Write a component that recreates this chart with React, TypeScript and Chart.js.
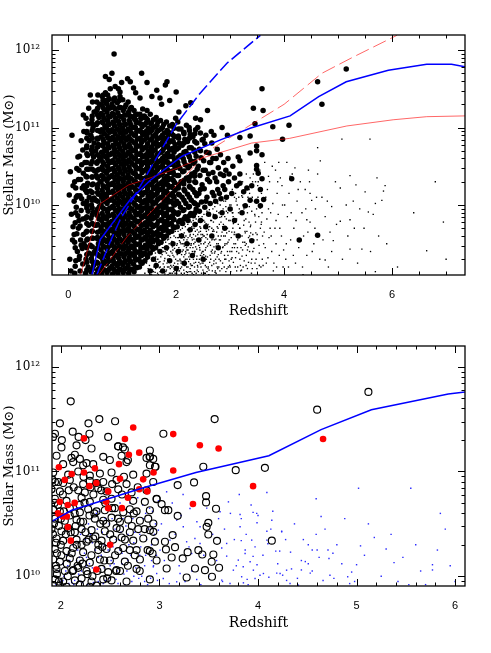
import React, { useEffect, useRef } from 'react';
import { Chart, registerables } from 'chart.js';
Chart.register(...registerables);

// ---------- TOP PANEL DATA: [redshift, log10(M*/Msun)] ----------
const topMassive: number[][] = [
[0.02,10.13],[0.07,10.90],[0.04,10.43],[0.06,9.88],[0.08,9.55],[0.03,9.30],[0.09,9.72],[0.05,9.15],[0.09,10.25],
[0.11,9.62],[0.14,9.9],[0.12,10.3],[0.2,9.3],[0.24,9.48],[0.2,9.8],[0.25,10.08],[0.2,10.45],[0.15,10.1],[0.13,9.45],[0.29,9.5],[0.29,10.25],
[0.12,9.12],[0.14,9.28],[0.17,9.40],[0.12,9.52],[0.16,9.63],[0.13,9.77],[0.18,9.86],[0.15,9.97],[0.11,10.05],[0.17,10.12],[0.14,10.22],[0.19,10.33],[0.16,10.47],[0.13,9.21],[0.19,9.70],[0.18,10.62],
[0.22,9.15],[0.27,9.24],[0.21,9.34],[0.26,9.44],[0.23,9.55],[0.28,9.62],[0.22,9.73],[0.27,9.82],[0.24,9.93],[0.28,10.02],[0.22,10.12],[0.26,10.22],[0.23,10.33],[0.28,10.41],[0.25,10.52],[0.21,10.63],[0.27,10.71],[0.24,10.83],[0.29,10.95],[0.28,11.16],
[0.32,9.12],[0.37,9.2],[0.33,9.3],[0.38,9.38],[0.31,9.47],[0.36,9.56],[0.33,9.65],[0.38,9.74],[0.32,9.83],[0.37,9.92],[0.34,10.0],[0.39,10.1],[0.32,10.19],[0.36,10.28],[0.33,10.37],[0.38,10.46],[0.31,10.55],[0.36,10.64],[0.34,10.74],[0.39,10.83],[0.35,10.93],[0.37,11.05],[0.33,11.12],[0.38,11.25],
[0.42,9.14],[0.47,9.22],[0.43,9.31],[0.48,9.39],[0.41,9.48],[0.46,9.57],[0.44,9.66],[0.49,9.74],[0.42,9.83],[0.47,9.91],[0.43,10.0],[0.48,10.09],[0.41,10.18],[0.46,10.27],[0.44,10.36],[0.49,10.44],[0.42,10.53],[0.47,10.62],[0.43,10.71],[0.48,10.8],[0.42,10.9],[0.46,11.0],[0.44,11.1],[0.48,11.2],[0.45,11.33],[0.41,11.42],
[0.52,9.11],[0.57,9.18],[0.53,9.26],[0.58,9.34],[0.51,9.42],[0.56,9.5],[0.54,9.58],[0.59,9.66],[0.52,9.74],[0.57,9.82],[0.53,9.9],[0.58,9.98],[0.51,10.06],[0.56,10.14],[0.54,10.22],[0.59,10.3],[0.52,10.38],[0.57,10.46],[0.53,10.54],[0.58,10.62],[0.51,10.7],[0.56,10.78],[0.54,10.86],[0.59,10.95],[0.52,11.04],[0.57,11.13],[0.53,11.22],[0.58,11.3],[0.55,11.42],[0.53,11.33],
[0.62,9.12],[0.62,9.22],[0.63,9.31],[0.61,9.42],[0.62,9.51],[0.63,9.60],[0.61,9.71],[0.62,9.80],[0.63,9.89],[0.61,10.0],[0.62,10.1],[0.63,10.19],[0.61,10.3],[0.62,10.38],[0.63,10.49],[0.61,10.58],[0.62,10.68],[0.63,10.77],[0.61,10.88],[0.62,10.97],[0.63,11.07],[0.61,11.18],[0.62,11.29],[0.63,11.40],
[0.67,9.16],[0.68,9.27],[0.66,9.36],[0.67,9.46],[0.68,9.55],[0.66,9.66],[0.67,9.75],[0.68,9.85],[0.66,9.95],[0.67,10.05],[0.68,10.14],[0.66,10.24],[0.67,10.34],[0.68,10.44],[0.66,10.53],[0.67,10.63],[0.68,10.72],[0.66,10.82],[0.67,10.92],[0.68,11.02],[0.66,11.12],[0.67,11.23],[0.68,11.35],[0.69,11.45],[0.69,11.66],[0.65,11.42],
[0.72,9.13],[0.71,9.24],[0.73,9.33],[0.72,9.43],[0.71,9.53],[0.73,9.62],[0.72,9.72],[0.71,9.82],[0.73,9.91],[0.72,10.02],[0.71,10.11],[0.73,10.21],[0.72,10.31],[0.71,10.41],[0.73,10.5],[0.72,10.6],[0.71,10.7],[0.73,10.79],[0.72,10.89],[0.71,10.99],[0.73,11.09],[0.72,11.2],[0.71,11.31],[0.73,11.42],
[0.77,9.18],[0.76,9.28],[0.78,9.38],[0.77,9.48],[0.76,9.57],[0.78,9.67],[0.77,9.77],[0.76,9.86],[0.78,9.96],[0.77,10.06],[0.76,10.16],[0.78,10.26],[0.77,10.36],[0.76,10.46],[0.78,10.55],[0.77,10.65],[0.76,10.74],[0.78,10.84],[0.77,10.94],[0.76,11.04],[0.78,11.14],[0.77,11.25],[0.76,11.37],[0.78,11.5],[0.76,11.62],
[0.82,9.11],[0.81,9.21],[0.83,9.3],[0.82,9.4],[0.81,9.5],[0.83,9.59],[0.82,9.69],[0.81,9.79],[0.83,9.88],[0.82,9.98],[0.81,10.08],[0.83,10.18],[0.82,10.28],[0.81,10.38],[0.83,10.47],[0.82,10.57],[0.81,10.67],[0.83,10.77],[0.82,10.87],[0.81,10.97],[0.83,11.07],[0.82,11.18],[0.81,11.3],
[0.87,9.15],[0.86,9.25],[0.88,9.35],[0.87,9.45],[0.86,9.55],[0.88,9.64],[0.87,9.74],[0.86,9.84],[0.88,9.93],[0.87,10.03],[0.86,10.13],[0.88,10.23],[0.87,10.33],[0.86,10.43],[0.88,10.52],[0.87,10.62],[0.86,10.72],[0.88,10.82],[0.87,10.92],[0.86,11.02],[0.88,11.12],[0.87,11.24],[0.86,11.38],[0.85,11.95],[0.81,11.70],[0.87,11.53],
[0.92,9.12],[0.91,9.22],[0.93,9.32],[0.92,9.42],[0.91,9.51],[0.93,9.61],[0.92,9.7],[0.91,9.8],[0.93,9.9],[0.92,10.0],[0.91,10.09],[0.93,10.19],[0.92,10.29],[0.91,10.39],[0.93,10.48],[0.92,10.58],[0.91,10.68],[0.93,10.78],[0.92,10.88],[0.91,10.98],[0.93,11.08],[0.92,11.19],[0.91,11.32],
[0.97,9.17],[0.96,9.27],[0.98,9.37],[0.97,9.46],[0.96,9.56],[0.98,9.66],[0.97,9.75],[0.96,9.85],[0.98,9.95],[0.97,10.04],[0.96,10.14],[0.98,10.24],[0.97,10.34],[0.96,10.43],[0.98,10.53],[0.97,10.63],[0.96,10.73],[0.98,10.83],[0.97,10.93],[0.96,11.03],[0.98,11.14],[0.97,11.26],[0.96,11.4],[0.99,11.58],[0.93,11.5],[0.96,11.46],
[1.02,9.13],[1.01,9.23],[1.03,9.33],[1.02,9.43],[1.01,9.52],[1.03,9.62],[1.02,9.72],[1.01,9.81],[1.03,9.91],[1.02,10.01],[1.01,10.1],[1.03,10.2],[1.02,10.3],[1.01,10.4],[1.03,10.49],[1.02,10.59],[1.01,10.69],[1.03,10.79],[1.02,10.89],[1.01,10.99],[1.03,11.1],[1.02,11.22],[1.01,11.36],
[1.07,9.18],[1.06,9.28],[1.08,9.38],[1.07,9.47],[1.06,9.57],[1.08,9.67],[1.07,9.76],[1.06,9.86],[1.08,9.96],[1.07,10.05],[1.06,10.15],[1.08,10.25],[1.07,10.35],[1.06,10.44],[1.08,10.54],[1.07,10.64],[1.06,10.74],[1.08,10.84],[1.07,10.94],[1.06,11.04],[1.08,11.16],[1.07,11.29],[1.10,11.63],
[1.12,9.12],[1.11,9.22],[1.13,9.32],[1.12,9.42],[1.11,9.52],[1.13,9.61],[1.12,9.71],[1.11,9.81],[1.13,9.9],[1.12,10.0],[1.11,10.1],[1.13,10.2],[1.12,10.29],[1.11,10.39],[1.13,10.49],[1.12,10.58],[1.11,10.68],[1.13,10.78],[1.12,10.88],[1.11,10.98],[1.13,11.09],[1.12,11.2],[1.11,11.33],
[1.17,9.17],[1.16,9.27],[1.18,9.37],[1.17,9.47],[1.16,9.56],[1.18,9.66],[1.17,9.76],[1.16,9.85],[1.18,9.95],[1.17,10.05],[1.16,10.15],[1.18,10.24],[1.17,10.34],[1.16,10.44],[1.18,10.54],[1.17,10.63],[1.16,10.73],[1.18,10.83],[1.17,10.93],[1.16,11.03],[1.18,11.14],[1.17,11.26],[1.15,11.59],[1.21,11.51],
[1.22,9.14],[1.21,9.24],[1.23,9.34],[1.22,9.44],[1.21,9.54],[1.23,9.63],[1.22,9.73],[1.21,9.83],[1.23,9.92],[1.22,10.02],[1.21,10.12],[1.23,10.22],[1.22,10.31],[1.21,10.41],[1.23,10.51],[1.22,10.6],[1.21,10.7],[1.23,10.8],[1.22,10.9],[1.21,11.0],[1.23,11.11],[1.22,11.22],
[1.27,9.19],[1.26,9.29],[1.28,9.39],[1.27,9.49],[1.26,9.58],[1.28,9.68],[1.27,9.78],[1.26,9.87],[1.28,9.97],[1.27,10.07],[1.26,10.17],[1.28,10.26],[1.27,10.36],[1.26,10.46],[1.28,10.56],[1.27,10.65],[1.26,10.75],[1.28,10.85],[1.27,10.95],[1.26,11.06],[1.28,11.17],[1.25,11.45],
[1.32,9.2],[1.31,9.3],[1.33,9.4],[1.32,9.5],[1.31,9.6],[1.33,9.69],[1.32,9.79],[1.31,9.89],[1.33,9.98],[1.32,10.08],[1.31,10.18],[1.33,10.28],[1.32,10.37],[1.31,10.47],[1.33,10.57],[1.32,10.66],[1.31,10.76],[1.33,10.86],[1.32,10.96],[1.31,11.06],[1.33,11.17],[1.33,11.38],
[1.37,9.25],[1.36,9.35],[1.38,9.45],[1.37,9.55],[1.36,9.64],[1.38,9.74],[1.37,9.84],[1.36,9.93],[1.38,10.03],[1.37,10.13],[1.36,10.23],[1.38,10.32],[1.37,10.42],[1.36,10.52],[1.38,10.62],[1.37,10.71],[1.36,10.81],[1.38,10.91],[1.37,11.01],[1.36,11.12],[1.38,11.24],[1.36,11.70],
[1.42,9.28],[1.41,9.38],[1.43,9.48],[1.42,9.58],[1.41,9.67],[1.43,9.77],[1.42,9.87],[1.41,9.96],[1.43,10.06],[1.42,10.16],[1.41,10.26],[1.43,10.35],[1.42,10.45],[1.41,10.55],[1.43,10.64],[1.42,10.74],[1.41,10.84],[1.43,10.94],[1.42,11.04],[1.41,11.15],
[1.47,9.33],[1.46,9.43],[1.48,9.53],[1.47,9.62],[1.46,9.72],[1.48,9.82],[1.47,9.91],[1.46,10.01],[1.48,10.11],[1.47,10.21],[1.46,10.3],[1.48,10.4],[1.47,10.5],[1.46,10.59],[1.48,10.69],[1.47,10.79],[1.46,10.89],[1.48,10.99],[1.47,11.1],[1.46,11.22],[1.46,11.58],
[1.52,9.38],[1.51,9.48],[1.53,9.58],[1.52,9.67],[1.51,9.77],[1.53,9.87],[1.52,9.96],[1.51,10.06],[1.53,10.16],[1.52,10.26],[1.51,10.35],[1.53,10.45],[1.52,10.55],[1.51,10.64],[1.53,10.74],[1.52,10.84],[1.51,10.94],[1.53,11.05],[1.52,11.17],
[1.57,9.43],[1.56,9.53],[1.58,9.62],[1.57,9.72],[1.56,9.82],[1.58,9.91],[1.57,10.01],[1.56,10.11],[1.58,10.21],[1.57,10.3],[1.56,10.4],[1.58,10.5],[1.57,10.59],[1.56,10.69],[1.58,10.79],[1.57,10.89],[1.56,10.99],[1.58,11.1],[1.55,11.40],
[1.62,9.45],[1.61,9.55],[1.63,9.64],[1.62,9.74],[1.61,9.84],[1.63,9.93],[1.62,10.03],[1.61,10.13],[1.63,10.23],[1.62,10.32],[1.61,10.42],[1.63,10.52],[1.62,10.61],[1.61,10.71],[1.63,10.81],[1.62,10.91],[1.61,11.01],[1.63,11.13],[1.64,11.48],
[1.67,9.5],[1.66,9.6],[1.68,9.69],[1.67,9.79],[1.66,9.89],[1.68,9.98],[1.67,10.08],[1.66,10.18],[1.68,10.27],[1.67,10.37],[1.66,10.47],[1.68,10.56],[1.67,10.66],[1.66,10.76],[1.68,10.86],[1.67,10.96],[1.66,11.07],[1.70,11.38],
[1.72,9.52],[1.71,9.62],[1.73,9.71],[1.72,9.81],[1.71,9.91],[1.73,10.0],[1.72,10.1],[1.71,10.2],[1.73,10.29],[1.72,10.39],[1.71,10.49],[1.73,10.58],[1.72,10.68],[1.71,10.78],[1.73,10.88],[1.72,10.98],[1.71,11.09],
[1.77,9.57],[1.76,9.67],[1.78,9.76],[1.77,9.86],[1.76,9.96],[1.78,10.05],[1.77,10.15],[1.76,10.25],[1.78,10.34],[1.77,10.44],[1.76,10.54],[1.78,10.63],[1.77,10.73],[1.76,10.83],[1.78,10.93],[1.77,11.04],[1.73,11.3],[1.83,11.59],[1.80,11.55],
[1.82,9.6],[1.81,9.7],[1.83,9.79],[1.82,9.89],[1.81,9.99],[1.83,10.08],[1.82,10.18],[1.81,10.28],[1.83,10.37],[1.82,10.47],[1.81,10.57],[1.83,10.66],[1.82,10.76],[1.81,10.86],[1.83,10.96],[1.82,11.07],
[1.87,9.65],[1.86,9.75],[1.88,9.84],[1.87,9.94],[1.86,10.04],[1.88,10.13],[1.87,10.23],[1.86,10.33],[1.88,10.42],[1.87,10.52],[1.86,10.62],[1.88,10.71],[1.87,10.81],[1.86,10.91],[1.88,11.02],[1.88,11.35],
[1.92,9.66],[1.91,9.76],[1.93,9.86],[1.92,9.95],[1.91,10.05],[1.93,10.15],[1.92,10.24],[1.91,10.34],[1.93,10.44],[1.92,10.53],[1.91,10.63],[1.93,10.73],[1.92,10.83],[1.91,10.93],[1.93,11.04],
[1.97,9.71],[1.96,9.81],[1.98,9.9],[1.97,10.0],[1.96,10.1],[1.98,10.19],[1.97,10.29],[1.96,10.39],[1.98,10.48],[1.97,10.58],[1.96,10.68],[1.98,10.78],[1.97,10.88],[1.96,10.99],[1.99,11.12],[2.0,11.46],
[2.02,9.72],[2.07,9.8],[2.03,9.88],[2.08,9.97],[2.01,10.05],[2.06,10.13],[2.04,10.22],[2.09,10.3],[2.02,10.38],[2.07,10.47],[2.03,10.55],[2.08,10.64],[2.01,10.72],[2.06,10.8],[2.04,10.89],[2.09,10.98],[2.03,11.07],[2.05,11.2],
[2.12,9.76],[2.17,9.85],[2.13,9.93],[2.18,10.02],[2.11,10.1],[2.16,10.18],[2.14,10.27],[2.19,10.35],[2.12,10.43],[2.17,10.52],[2.13,10.6],[2.18,10.69],[2.11,10.77],[2.16,10.85],[2.14,10.94],[2.19,11.03],[2.18,11.28],
[2.22,9.8],[2.27,9.89],[2.23,9.97],[2.28,10.06],[2.21,10.14],[2.26,10.23],[2.24,10.31],[2.29,10.4],[2.22,10.48],[2.27,10.57],[2.23,10.65],[2.28,10.74],[2.21,10.82],[2.26,10.91],[2.24,11.0],[2.27,11.32],
[2.32,9.86],[2.37,9.95],[2.33,10.03],[2.38,10.12],[2.31,10.2],[2.36,10.29],[2.34,10.37],[2.39,10.46],[2.32,10.54],[2.37,10.63],[2.33,10.71],[2.38,10.8],[2.31,10.88],[2.36,10.97],[2.36,11.12],
[2.43,9.92],[2.47,10.04],[2.42,10.15],[2.48,10.26],[2.44,10.38],[2.41,10.5],[2.46,10.61],[2.43,10.72],[2.48,10.84],[2.45,10.93],
[2.53,9.97],[2.57,10.1],[2.52,10.21],[2.58,10.33],[2.54,10.45],[2.51,10.57],[2.56,10.68],[2.53,10.79],[2.58,11.22],[2.55,10.9],
[2.63,10.02],[2.67,10.16],[2.62,10.3],[2.68,10.42],[2.64,10.55],[2.61,10.67],[2.66,10.8],
[2.73,10.05],[2.77,10.2],[2.72,10.35],[2.78,10.48],[2.74,10.6],[2.76,10.72],
[2.83,10.08],[2.87,10.25],[2.82,10.4],[2.88,10.55],[2.85,11.0],
[2.93,10.1],[2.97,10.3],[2.92,10.45],[2.96,10.6],[2.95,10.9],
[3.03,10.15],[3.08,10.35],[3.05,10.5],[3.12,10.25],[3.15,10.62],[3.18,10.4],
[2.4,10.0],[2.45,10.2],[2.5,10.45],[2.45,10.7],[2.55,10.05],[2.6,10.4],[2.62,10.55],[2.7,10.12],[2.68,10.6],[2.75,10.3],[2.8,10.15],[2.82,10.65],[2.9,10.2],[2.88,10.38],[2.98,10.4],[2.5,10.85],[2.65,10.95],[2.7,10.9],[2.4,11.0],[2.45,11.1],
[3.18,10.87],[3.59,11.5],[3.43,11.25],[3.61,11.22],[3.46,11.05],[3.79,11.01],[4.09,11.03],[3.97,10.85],[3.37,10.89],[3.49,10.76],[3.49,10.70],[3.37,10.67],[3.59,10.65],[3.18,10.57],[3.49,10.51],[3.49,10.46],[3.52,10.41],[3.59,10.34],[4.14,10.34],[3.18,10.28],[3.40,10.25],[3.56,10.20],[3.25,10.17],[3.31,10.22],[3.37,10.06],[3.49,10.05],[3.62,10.07],[3.56,9.99],[3.28,9.99],[4.62,11.59],[4.70,11.30],[5.15,11.755],[4.28,9.55],[4.62,9.61],[3.40,9.54],
[1.52,9.15],[1.58,9.3],[1.63,9.22],[1.7,9.4],[1.75,9.15],[1.82,9.45],[1.88,9.28],[1.94,9.5],[2.0,9.18],[2.04,9.4],[2.1,9.6],[2.15,9.25],[2.2,9.5],[2.26,9.68],[2.3,9.35],[2.35,9.75],[2.42,9.55],[2.45,9.8],[2.5,9.3],[2.55,9.72],[2.6,9.88],[2.66,9.6],[2.72,9.85],[2.78,9.45],[2.85,9.9],[2.9,9.7],[3.0,9.95],[3.08,9.8],[3.15,9.6],[3.22,9.9]
];

// extra massive galaxies filling the crowded core: [redshift, list of log masses]
const topMassiveCore: [number, number[]][] = [
[0.345,[9.16,9.26,9.36,9.45,9.55,9.66,9.76,9.85,9.96,10.05,10.16,10.25,10.36,10.46,10.55,10.66,10.76,10.86,10.95]],
[0.445,[9.17,9.27,9.36,9.46,9.57,9.66,9.76,9.87,9.96,10.06,10.16,10.26,10.36,10.46,10.56,10.66,10.75,10.86,10.96,11.05,11.15]],
[0.545,[9.16,9.25,9.36,9.45,9.56,9.65,9.75,9.86,9.95,10.05,10.16,10.26,10.35,10.45,10.56,10.65,10.75,10.85,10.96,11.06,11.16,11.25]],
[0.645,[9.17,9.26,9.37,9.46,9.56,9.66,9.75,9.85,9.96,10.06,10.15,10.25,10.36,10.45,10.55,10.66,10.76,10.85,10.95,11.06,11.16,11.26,11.35]],
[0.745,[9.16,9.27,9.36,9.46,9.55,9.66,9.76,9.86,9.95,10.06,10.16,10.26,10.35,10.45,10.56,10.65,10.75,10.86,10.96,11.05,11.15,11.26,11.36]],
[0.845,[9.17,9.26,9.36,9.46,9.56,9.65,9.75,9.86,9.96,10.05,10.15,10.26,10.36,10.45,10.55,10.66,10.76,10.85,10.95,11.06,11.16,11.26,11.35]],
[0.945,[9.16,9.26,9.37,9.46,9.56,9.65,9.76,9.86,9.95,10.05,10.16,10.25,10.35,10.46,10.56,10.65,10.75,10.86,10.96,11.05,11.15,11.26,11.35]],
[1.045,[9.17,9.26,9.36,9.46,9.55,9.66,9.76,9.85,9.95,10.06,10.16,10.25,10.35,10.46,10.55,10.65,10.76,10.86,10.95,11.05,11.16,11.26]],
[1.145,[9.16,9.27,9.36,9.45,9.56,9.66,9.75,9.86,9.96,10.05,10.15,10.26,10.35,10.45,10.56,10.66,10.75,10.85,10.96,11.06,11.15,11.24]],
[1.245,[9.2,9.3,9.4,9.5,9.6,9.7,9.8,9.9,10.0,10.1,10.2,10.3,10.4,10.5,10.6,10.7,10.8,10.9,11.0,11.1,11.16]],
[1.345,[9.26,9.35,9.45,9.56,9.65,9.75,9.86,9.95,10.05,10.16,10.25,10.35,10.46,10.55,10.65,10.76,10.85,10.95,11.05,11.12]],
[1.445,[9.36,9.45,9.56,9.65,9.75,9.85,9.96,10.05,10.16,10.25,10.35,10.46,10.55,10.65,10.75,10.86,10.95,11.06,11.12]],
[1.545,[9.46,9.56,9.65,9.75,9.86,9.95,10.05,10.15,10.26,10.35,10.45,10.56,10.65,10.75,10.85,10.96,11.06]],
[1.645,[9.55,9.65,9.75,9.86,9.95,10.06,10.15,10.25,10.36,10.45,10.55,10.65,10.76,10.86,10.95,11.03]],
[1.745,[9.6,9.7,9.8,9.9,10.0,10.1,10.2,10.3,10.4,10.5,10.6,10.7,10.8,10.9,11.0]],
[1.845,[9.66,9.75,9.85,9.95,10.06,10.15,10.26,10.35,10.45,10.55,10.66,10.75,10.85,10.95]],
[1.945,[9.72,9.82,9.92,10.02,10.12,10.22,10.32,10.42,10.52,10.62,10.72,10.82,10.9]],
[2.045,[9.78,9.9,10.02,10.14,10.26,10.38,10.5,10.62,10.74,10.86,10.98]],
[2.145,[9.82,9.94,10.06,10.2,10.32,10.44,10.56,10.68,10.8,10.92]],
[2.245,[9.86,9.98,10.1,10.24,10.36,10.5,10.62,10.74,10.86,10.96]],
[2.345,[9.9,10.02,10.16,10.3,10.42,10.56,10.68,10.82,10.92]]
];

const topFaint: number[][] = [
[1.42,9.12],[1.45,9.25],[1.48,9.18],[1.5,9.35],[1.52,9.1],[1.55,9.28],[1.57,9.42],[1.59,9.2],[1.44,9.38],[1.53,9.48],[1.47,9.3],[1.58,9.14],
[1.61,9.13],[1.62,9.33],[1.64,9.22],[1.65,9.47],[1.67,9.1],[1.68,9.4],[1.7,9.27],[1.71,9.52],[1.73,9.16],[1.74,9.36],[1.76,9.24],[1.77,9.45],[1.79,9.11],[1.79,9.31],[1.63,9.55],[1.69,9.19],[1.75,9.55],[1.66,9.3],[1.72,9.42],[1.78,9.2],
[1.81,9.14],[1.82,9.38],[1.83,9.25],[1.84,9.55],[1.85,9.1],[1.86,9.45],[1.87,9.3],[1.88,9.62],[1.89,9.18],[1.9,9.4],[1.91,9.27],[1.92,9.53],[1.93,9.12],[1.94,9.35],[1.95,9.22],[1.96,9.6],[1.97,9.44],[1.98,9.16],[1.99,9.3],[1.84,9.2],[1.87,9.5],[1.9,9.12],[1.93,9.46],[1.96,9.33],[1.99,9.58],[1.82,9.6],[1.88,9.34],[1.94,9.65],[1.97,9.25],[1.85,9.35],
[2.01,9.12],[2.02,9.36],[2.03,9.24],[2.04,9.58],[2.05,9.45],[2.06,9.15],[2.07,9.3],[2.08,9.68],[2.09,9.5],[2.1,9.2],[2.11,9.4],[2.12,9.1],[2.13,9.62],[2.14,9.33],[2.15,9.47],[2.16,9.22],[2.17,9.72],[2.18,9.38],[2.19,9.14],[2.2,9.55],[2.02,9.5],[2.05,9.28],[2.08,9.18],[2.1,9.63],[2.13,9.42],[2.15,9.12],[2.18,9.6],[2.04,9.7],[2.07,9.42],[2.11,9.27],[2.14,9.55],[2.17,9.3],[2.19,9.45],[2.06,9.62],[2.12,9.5],[2.16,9.36],[2.09,9.25],[2.03,9.15],[2.2,9.3],[2.01,9.48],
[2.21,9.13],[2.22,9.42],[2.23,9.27],[2.24,9.65],[2.25,9.5],[2.26,9.18],[2.27,9.35],[2.28,9.78],[2.29,9.58],[2.3,9.22],[2.31,9.45],[2.32,9.1],[2.33,9.7],[2.34,9.38],[2.35,9.52],[2.36,9.26],[2.37,9.82],[2.38,9.43],[2.39,9.16],[2.4,9.62],[2.22,9.58],[2.25,9.3],[2.27,9.14],[2.29,9.72],[2.31,9.33],[2.34,9.2],[2.36,9.6],[2.38,9.3],[2.23,9.8],[2.26,9.45],[2.3,9.55],[2.33,9.25],[2.35,9.4],[2.37,9.12],[2.39,9.68],[2.24,9.38],[2.28,9.22],[2.32,9.62],[2.21,9.68],[2.26,9.85],
[2.41,9.14],[2.42,9.48],[2.43,9.3],[2.44,9.72],[2.45,9.55],[2.46,9.2],[2.47,9.38],[2.48,9.85],[2.49,9.62],[2.5,9.25],[2.51,9.5],[2.52,9.12],[2.53,9.78],[2.54,9.42],[2.55,9.58],[2.56,9.3],[2.57,9.92],[2.58,9.47],[2.59,9.18],[2.6,9.68],[2.42,9.65],[2.45,9.35],[2.47,9.12],[2.49,9.8],[2.51,9.36],[2.54,9.22],[2.56,9.66],[2.58,9.33],[2.43,9.9],[2.46,9.5],[2.5,9.6],[2.53,9.28],[2.55,9.45],[2.57,9.14],[2.59,9.75],[2.44,9.42],[2.48,9.25],[2.52,9.7],[2.41,9.78],
[2.61,9.16],[2.62,9.52],[2.63,9.35],[2.64,9.8],[2.65,9.6],[2.66,9.22],[2.67,9.42],[2.68,9.95],[2.69,9.68],[2.7,9.28],[2.71,9.55],[2.72,9.13],[2.73,9.85],[2.74,9.47],[2.75,9.65],[2.76,9.33],[2.77,10.02],[2.78,9.5],[2.79,9.2],[2.8,9.75],[2.62,9.72],[2.65,9.4],[2.67,9.15],[2.69,9.88],[2.71,9.38],[2.74,9.25],[2.76,9.72],[2.78,9.36],[2.63,10.0],[2.66,9.55],[2.7,9.66],[2.73,9.3],[2.75,9.5],[2.77,9.18],[2.79,9.9],
[2.81,9.15],[2.82,9.55],[2.83,9.38],[2.84,9.85],[2.85,9.65],[2.86,9.25],[2.87,9.46],[2.88,10.05],[2.89,9.72],[2.9,9.3],[2.91,9.6],[2.92,9.14],[2.93,9.92],[2.94,9.5],[2.95,9.7],[2.96,9.35],[2.97,10.12],[2.98,9.55],[2.99,9.22],[3.0,9.8],[2.83,9.78],[2.86,9.45],[2.89,9.2],[2.92,9.98],[2.95,9.4],[2.98,9.28],[2.85,10.1],[2.9,9.85],
[3.01,9.14],[3.02,9.58],[3.03,9.4],[3.04,9.9],[3.05,9.7],[3.06,9.26],[3.07,9.5],[3.08,10.1],[3.09,9.78],[3.1,9.32],[3.11,9.62],[3.12,9.15],[3.13,10.0],[3.14,9.55],[3.15,9.75],[3.16,9.38],[3.17,10.25],[3.18,9.6],[3.19,9.22],[3.2,9.88],[3.04,10.2],[3.08,9.45],[3.12,9.82],[3.16,10.1],[3.03,9.65],[3.1,10.15],[3.18,9.3],
[3.21,9.16],[3.22,9.6],[3.23,9.42],[3.24,10.0],[3.25,9.74],[3.26,9.28],[3.27,9.52],[3.28,10.2],[3.29,9.82],[3.3,9.35],[3.31,9.66],[3.32,9.18],[3.33,10.1],[3.34,9.58],[3.35,9.78],[3.36,9.4],[3.37,10.35],[3.38,9.64],[3.39,9.25],[3.4,9.92],[3.23,10.3],[3.28,9.48],[3.32,9.9],[3.36,10.15],[3.3,10.4],
[3.41,9.18],[3.42,9.62],[3.44,9.44],[3.45,10.05],[3.47,9.78],[3.48,9.3],[3.5,9.55],[3.51,10.25],[3.53,9.85],[3.54,9.38],[3.56,9.7],[3.57,9.2],[3.58,10.15],[3.6,9.6],[3.43,10.4],[3.49,9.95],[3.55,10.45],[3.59,9.9],[3.46,9.25],[3.52,10.3],
[3.61,9.22],[3.63,9.65],[3.65,9.45],[3.66,10.1],[3.68,9.82],[3.7,9.32],[3.72,9.58],[3.73,10.3],[3.75,9.9],[3.77,9.4],[3.78,10.5],[3.64,10.55],[3.69,10.2],[3.74,9.7],[3.79,10.02],[3.71,10.37],
[3.81,9.25],[3.83,9.7],[3.85,9.5],[3.87,10.15],[3.89,9.88],[3.91,9.35],[3.93,10.35],[3.95,9.6],[3.97,10.0],[3.99,9.42],[3.84,10.45],[3.9,10.55],[3.96,10.25],[3.86,9.2],
[4.03,9.3],[4.06,9.85],[4.09,10.15],[4.12,9.55],[4.15,10.4],[4.18,9.7],[4.21,9.25],[4.24,10.05],[4.27,9.45],[4.3,10.3],[4.33,9.9],[4.36,9.6],[4.39,10.2],[4.42,9.35],[4.45,10.45],[4.48,9.78],[4.11,10.37],[4.2,10.48],[4.05,10.55],[4.34,9.2],
[4.51,10.06],[4.48,10.15],[4.62,10.4],[4.67,10.57],[4.62,10.74],[4.42,9.81],[4.76,9.85],[4.88,9.98],[4.91,9.54],[4.82,9.2],[4.76,9.29],[4.55,9.5],[4.7,10.1],[4.95,10.3],[4.58,9.95],[4.85,9.65],
[5.07,10.85],[5.22,10.38],[5.33,10.26],[5.04,10.22],[5.5,10.17],[5.04,9.79],[5.22,9.81],[5.22,9.43],[5.44,9.43],[5.15,10.0],[5.3,9.7],[5.4,9.95],
[5.59,10.85],[5.87,10.25],[5.84,10.18],[5.81,10.06],[5.69,10.02],[5.56,9.91],[5.65,9.88],[5.69,9.14],[5.75,9.6],
[6.95,9.78],[6.64,9.41]
];

const topFaintMore: number[][] = [
[1.505,9.22],[1.535,9.4],[1.565,9.16],[1.595,9.5],[1.625,9.27],[1.655,9.12],[1.685,9.55],[1.715,9.33],[1.745,9.45],[1.775,9.14],[1.805,9.52],[1.835,9.42],[1.865,9.2],[1.895,9.58],[1.925,9.38],[1.955,9.14],[1.985,9.66],[1.545,9.1],[1.615,9.38],[1.705,9.2],[1.795,9.4],[1.875,9.12],[1.945,9.48],
[2.015,9.2],[2.035,9.66],[2.055,9.38],[2.075,9.52],[2.095,9.12],[2.115,9.7],[2.135,9.26],[2.155,9.58],[2.175,9.4],[2.195,9.2],[2.215,9.75],[2.235,9.33],[2.255,9.6],[2.275,9.48],[2.295,9.12],[2.315,9.8],[2.335,9.4],[2.355,9.66],[2.375,9.55],[2.395,9.22],[2.415,9.85],[2.435,9.45],[2.455,9.7],[2.475,9.58],[2.495,9.16],[2.025,9.42],[2.085,9.28],[2.145,9.5],[2.205,9.1],[2.265,9.24],[2.325,9.5],[2.385,9.34],[2.445,9.24],[2.485,9.4],
[2.515,9.88],[2.535,9.52],[2.555,9.76],[2.575,9.62],[2.595,9.2],[2.615,9.94],[2.635,9.48],[2.655,9.8],[2.675,9.66],[2.695,9.24],[2.715,9.98],[2.735,9.56],[2.755,9.84],[2.775,9.7],[2.795,9.3],[2.815,10.0],[2.835,9.6],[2.855,9.88],[2.875,9.75],[2.895,9.35],[2.915,10.05],[2.935,9.64],[2.955,9.9],[2.975,9.8],[2.995,9.4],[2.545,9.34],[2.605,9.1],[2.665,9.38],[2.725,9.15],[2.785,9.44],[2.845,9.18],[2.905,9.5],[2.965,9.2],
[3.015,10.0],[3.035,9.32],[3.055,9.85],[3.075,9.62],[3.095,9.2],[3.115,10.08],[3.135,9.45],[3.155,9.9],[3.175,9.7],[3.195,9.15],[3.215,10.12],[3.235,9.52],[3.255,9.95],[3.275,9.66],[3.295,9.22],[3.315,10.2],[3.335,9.46],[3.355,9.98],[3.375,9.72],[3.395,9.12],[3.415,10.3],[3.435,9.55],[3.455,9.88],[3.475,9.64],[3.495,9.18],[3.515,10.1],[3.535,9.48],[3.555,9.96],[3.575,9.75],[3.595,9.3],
[3.62,9.5],[3.67,9.25],[3.71,9.95],[3.76,9.6],[3.8,9.15],[3.85,9.8],[3.88,10.3],[3.92,9.7],[3.98,9.2],[4.01,10.0],[4.04,9.5],[4.08,9.2],[4.13,9.9],[4.17,9.35],[4.22,9.8],[4.26,10.2],[4.31,9.55],[4.35,9.1],[4.4,9.95],[4.44,9.65],[4.47,10.3],[4.52,9.4],[4.57,9.7],[4.6,10.1],[4.66,9.3],[4.72,9.55],[4.8,10.05],[4.88,9.4],[4.97,9.75],[5.08,9.3],[5.18,9.6],[5.28,10.05],[5.36,9.25],[5.48,9.7],[5.6,9.4],[5.72,10.35],[5.9,9.5],[6.1,9.2],[6.4,9.9],[6.8,10.3],[7.0,9.3],
[1.62,9.18],[1.66,9.42],[1.7,9.14],[1.74,9.5],[1.78,9.28],[1.82,9.16],[1.86,9.56],[1.9,9.22],[1.94,9.42],[1.98,9.12],[2.02,9.28],[2.06,9.54],[2.1,9.36],[2.14,9.16],[2.18,9.48],[2.22,9.2],[2.26,9.62],[2.3,9.4],[2.34,9.14],[2.38,9.56],[2.42,9.26],[2.46,9.62],[2.5,9.4],[2.54,9.12],[2.58,9.56],[2.62,9.26],[2.66,9.7],[2.7,9.46],[2.74,9.12],[2.78,9.6],[2.82,9.28],[2.86,9.72],[2.9,9.48],[2.94,9.18],[2.98,9.66],[3.02,9.3],[3.06,9.76],[3.1,9.5],[3.14,9.2],[3.18,9.7],[3.22,9.34],[3.26,9.8],[3.3,9.5],[3.34,9.26],[3.38,9.74],[3.42,9.4],[3.46,9.86],[3.5,9.62],[3.54,9.22],[3.58,9.78],
[1.68,9.26],[1.76,9.4],[1.84,9.3],[1.92,9.2],[2.0,9.4],[2.04,9.2],[2.08,9.42],[2.12,9.6],[2.16,9.28],[2.2,9.42],[2.24,9.14],[2.28,9.5],[2.32,9.3],[2.36,9.46],[2.4,9.2],[2.44,9.56],[2.48,9.34],[2.52,9.6],[2.56,9.2],[2.6,9.5],[2.64,9.3],[2.68,9.56],[2.72,9.4],[2.76,9.2],[2.8,9.55],[2.84,9.4],[2.88,9.6],[2.92,9.3],[2.96,9.52],[3.0,9.2],[3.04,9.45],[3.08,9.65],[3.12,9.4],[3.16,9.62],[3.2,9.45],[3.24,9.2],[3.28,9.64],[3.32,9.42],[3.36,9.6],[3.4,9.3],
[2.03,9.58],[2.09,9.74],[2.15,9.64],[2.21,9.5],[2.27,9.68],[2.33,9.56],[2.39,9.76],[2.45,9.66],[2.51,9.8],[2.57,9.7],[2.63,9.86],[2.69,9.78],[2.75,9.92],[2.81,9.84],[2.87,9.95],[2.93,9.82],[2.99,10.0],[3.05,9.9],[3.11,10.05],[3.17,9.95],[3.23,10.1],[3.29,10.0],[3.35,10.2],[3.41,10.1],[3.47,10.3]
];

const topBlueSolid: number[][] = [[0.44,9.10],[0.59,9.55],[1.15,10.07],[1.52,10.32],[2.11,10.63],[2.82,10.84],[3.37,10.99],[4.11,11.15],[4.64,11.40],[5.15,11.59],[5.93,11.74],[6.64,11.815],[7.1,11.815],[7.35,11.785]];
const topBlueDashed: number[][] = [[0.53,9.10],[0.78,9.53],[0.96,9.81],[1.18,10.06],[1.58,10.54],[2.01,11.05],[2.44,11.44],[2.94,11.83],[3.56,12.19]];
const topRedSolid: number[][] = [[0.23,9.10],[0.60,10.02],[1.12,10.26],[1.40,10.32],[2.0,10.47],[2.45,10.60],[3.40,10.80],[4.10,10.86],[5.16,11.02],[6.02,11.10],[6.64,11.14],[7.35,11.15]];
const topRedDashed: number[][] = [[0.57,9.10],[1.10,9.60],[1.70,10.03],[2.0,10.25],[2.60,10.70],[3.30,11.0],[4.0,11.30],[4.70,11.70],[5.28,11.91],[6.09,12.19]];

// ---------- BOTTOM PANEL DATA ----------
const botOpen: number[][] = [
[2.10,11.67],[1.94,11.36],[1.99,11.46],[2.12,11.38],[2.18,11.33],[2.28,11.46],[2.29,11.36],[2.39,11.50],[2.55,11.48],[3.04,11.36],[3.56,11.50],[1.92,11.33],[2.01,11.3],[2.25,11.3],[2.48,11.33],[4.60,11.59],[5.12,11.76],[4.07,11.035],[4.14,10.34],
[2.006,11.23],[2.159,11.25],[2.311,11.22],[2.582,11.24],[2.649,11.21],[2.903,11.2],
[1.956,11.15],[2.108,11.13],[2.142,11.16],[2.193,11.12],[2.43,11.14],[2.497,11.11],[2.616,11.15],[2.869,11.13],[2.937,11.12],
[2.023,11.07],[2.125,11.09],[2.226,11.06],[2.26,11.08],[2.328,11.07],[2.666,11.09],[2.903,11.06],
[1.922,10.99],[2.074,10.97],[2.176,11.0],[2.294,10.96],[2.396,10.98],[2.514,10.99],[2.734,10.97],[2.869,10.98],
[1.973,10.9],[2.023,10.89],[2.091,10.92],[2.226,10.88],[2.294,10.91],[2.362,10.89],[2.43,10.9],[2.565,10.92],[2.666,10.88],[2.937,10.9],
[1.905,10.83],[1.99,10.81],[2.176,10.82],[2.243,10.8],[2.379,10.84],[2.463,10.81],[2.582,10.83],[2.717,10.8],[2.869,10.82],
[1.939,10.74],[2.057,10.72],[2.21,10.75],[2.294,10.71],[2.43,10.73],[2.514,10.74],[2.734,10.72],[2.852,10.71],[2.971,10.74],
[1.922,10.64],[1.99,10.62],[2.091,10.65],[2.193,10.61],[2.277,10.64],[2.362,10.62],[2.446,10.63],[2.548,10.65],[2.633,10.61],[2.70,10.64],[2.768,10.62],[2.903,10.63],
[1.939,10.55],[2.04,10.53],[2.159,10.54],[2.226,10.52],[2.345,10.55],[2.43,10.53],[2.514,10.56],[2.599,10.52],[2.683,10.54],[2.802,10.53],[2.886,10.55],
[1.905,10.45],[2.006,10.43],[2.074,10.46],[2.142,10.42],[2.21,10.45],[2.311,10.44],[2.446,10.43],[2.565,10.46],[2.70,10.42],[2.785,10.45],[2.903,10.44],
[1.956,10.36],[2.023,10.34],[2.159,10.35],[2.26,10.33],[2.328,10.36],[2.413,10.34],[2.531,10.35],[2.616,10.37],[2.734,10.34],[2.836,10.36],[2.954,10.33],
[1.939,10.26],[2.057,10.24],[2.125,10.27],[2.226,10.23],[2.379,10.25],[2.463,10.26],[2.582,10.24],[2.633,10.27],[2.768,10.25],[2.903,10.24],
[1.922,10.16],[1.99,10.14],[2.091,10.17],[2.193,10.15],[2.294,10.13],[2.396,10.16],[2.497,10.15],[2.649,10.14],[2.802,10.16],[2.971,10.15],
[1.956,10.07],[2.04,10.05],[2.125,10.06],[2.176,10.08],[2.26,10.05],[2.413,10.07],[2.48,10.04],[2.565,10.06],[2.768,10.07],
[1.939,9.97],[2.023,9.95],[2.142,9.96],[2.21,9.98],[2.311,9.95],[2.43,9.97],[2.514,9.96],[2.666,9.95],[2.903,9.97],
[1.99,9.91],[2.057,9.9],[2.193,9.92],[2.294,9.9],[2.362,9.91],
[1.93,10.5],[1.95,10.1],[1.97,10.68],[2.0,10.3],[2.02,10.78],[2.05,10.4],[2.07,10.0],[2.09,10.58],[2.11,10.22],[2.13,10.85],[2.15,10.48],[2.17,10.1],[2.19,10.68],[2.21,10.3],[2.23,10.95],[2.25,10.42],[2.27,10.02],[2.29,10.58],[2.31,10.2],[2.33,10.78],[2.35,10.38],[2.37,10.05],[2.4,10.5],[2.42,10.28],[2.45,10.7],[2.47,9.98],[2.5,10.4],[2.52,10.88],[2.55,10.2],[2.58,10.55],[2.6,10.05],[2.62,10.78],[2.65,10.35],[2.68,10.1],[2.72,10.48],[2.75,10.2],[2.78,10.85],[2.8,10.05],[2.85,10.45],[2.88,10.25],[1.92,10.4],[1.94,10.9],[1.96,10.22],[1.98,9.95],[2.0,10.55],
[1.915,10.92],[1.935,10.7],[1.95,10.32],[1.96,10.02],[1.98,10.48],[2.005,10.2],[2.03,10.62],[2.06,10.12],[2.08,10.82],[2.1,10.42],[2.12,10.05],[2.14,10.6],[2.16,10.3],[2.2,10.52],[2.22,10.12],[2.24,10.7],[2.28,10.35],[2.3,10.85],[2.32,10.0],[2.34,10.6],[2.38,10.3],[2.41,10.82],[2.44,10.15],[2.46,10.5],[2.52,10.65],[2.56,10.05],[2.6,10.45],[2.64,10.95],[2.7,10.25],[2.74,10.6],
[2.58,11.24],[2.63,11.23],[2.68,11.11],[2.90,11.14],[2.96,11.045],
[2.904,11.14],[2.955,11.045],[3.445,11.045],[3.774,11.013],[3.185,10.87],[3.351,10.896],[3.473,10.765],[3.473,10.705],[3.574,10.644],[2.972,10.736],[3.022,10.689],[3.056,10.631],[3.09,10.631],[3.185,10.577],[2.938,10.504],[3.496,10.51],[3.479,10.472],[3.496,10.399],[3.584,10.338],[3.134,10.393],[3.056,10.329],[3.066,10.256],[3.158,10.278],[3.286,10.23],[3.395,10.249],[3.435,10.208],[3.547,10.208],[3.236,10.17],[3.124,10.179],[3.073,10.074],[3.361,10.074],[3.462,10.058],[3.53,10.138],[3.605,10.081],[3.533,9.995],[3.276,9.988],[2.938,10.424],[2.93,10.217]
];

const botRed: number[][] = [
[2.234,11.316],[2.734,11.42],[3.14,11.357],[3.41,11.25],[3.60,11.22],[2.65,11.31],[2.59,11.07],[2.69,11.16],[2.795,11.18],[2.60,10.93],[2.835,10.925],[2.94,10.99],[3.14,11.01],[2.795,10.83],[2.876,10.81],[3.34,10.69],[2.234,10.99],[1.98,11.04],[2.04,10.92],[2.11,10.975],[2.345,11.03],[2.36,10.89],[2.48,10.81],[2.46,10.71],[2.48,10.65],[2.62,10.65],[2.68,10.75],[1.99,10.71],[2.07,10.68],[2.14,10.70],[2.06,10.57],[2.07,10.47],[2.10,10.34],[2.50,10.30],[2.36,10.065],[3.95,10.86],[4.66,11.31],[1.97,10.60],[2.02,10.57],[2.29,10.86]
];

const botFaint: number[][] = [
[1.95,9.92],[1.98,10.05],[2.0,9.95],[2.02,10.12],[2.04,9.98],[2.06,10.2],[2.08,9.93],[2.1,10.08],[2.12,10.3],[2.14,9.96],[2.16,10.15],[2.18,10.02],[2.2,10.4],[2.22,9.94],[2.24,10.22],[2.26,10.1],[2.28,10.5],[2.3,9.97],[2.32,10.32],[2.34,10.05],[2.36,10.6],[2.38,10.18],[2.4,9.92],[2.42,10.42],[2.44,10.08],[2.46,10.68],[2.48,10.25],[2.5,9.98],[2.52,10.55],[2.54,10.12],[2.56,10.35],[2.58,9.93],[2.6,10.7],[2.62,10.22],[2.64,10.02],[2.66,10.48],[2.68,10.15],[2.7,10.6],[2.72,9.95],[2.74,10.32],[2.76,10.08],[2.78,10.75],[2.8,10.4],[2.82,10.0],[2.84,10.55],[2.86,10.2],[2.88,9.92],[2.9,10.65],[2.92,10.3],[2.94,10.1],[2.96,10.5],[2.98,9.96],
[2.01,9.9],[2.05,10.05],[2.09,10.15],[2.13,9.92],[2.17,10.25],[2.21,10.05],[2.25,10.35],[2.29,10.12],[2.33,9.94],[2.37,10.45],[2.41,10.2],[2.45,9.96],[2.49,10.5],[2.53,10.28],[2.57,10.05],[2.61,10.42],[2.65,9.92],[2.69,10.3],[2.73,10.55],[2.77,10.15],[2.81,10.28],[2.85,9.95],[2.89,10.45],[2.93,10.62],[2.97,10.2],
[2.03,10.0],[2.07,10.1],[2.11,9.94],[2.15,10.05],[2.19,10.18],[2.23,10.45],[2.27,9.92],[2.31,10.55],[2.35,10.25],[2.39,10.62],[2.43,9.93],[2.47,10.38],[2.51,10.15],[2.55,10.62],[2.59,10.35],[2.63,10.55],[2.67,10.05],[2.71,10.2],[2.75,10.42],[2.79,9.98],[2.83,10.68],[2.87,10.35],[2.91,9.98],[2.95,10.4],[2.99,10.72],
[2.02,9.96],[2.08,10.22],[2.14,10.1],[2.2,9.95],[2.26,10.18],[2.32,10.08],[2.38,9.95],[2.44,10.3],[2.5,10.1],[2.56,9.97],[2.62,10.12],[2.68,10.4],[2.74,10.0],[2.8,10.2],[2.86,10.6],[2.92,10.15],[2.98,10.35],[2.3,10.4],[2.55,10.45],[2.7,10.7],[2.9,10.8],[2.45,10.55],[2.6,10.25],[2.85,10.1],
[3.81,10.78],[3.24,10.78],[3.073,10.806],[3.818,10.59],[3.70,10.71],[3.615,10.615],[3.987,10.60],[4.14,10.535],[4.24,10.424],[4.09,10.345],[3.936,10.345],[3.818,10.472],[3.682,10.313],[3.632,10.27],[3.682,10.192],[3.80,10.154],[3.869,10.217],[3.92,10.138],[3.953,10.058],[3.75,10.058],[3.716,9.93],[3.834,9.995],[3.97,9.979],[4.055,10.026],[4.224,10.026],[4.29,10.058],[4.325,9.93],[3.31,10.647],[3.412,10.472],[3.242,10.472],[3.175,10.536],[3.36,10.36],[3.276,10.329],[3.412,10.313],[3.327,10.217],[2.989,10.44],[3.107,10.345],[3.006,10.249],[2.938,10.09],[3.039,9.979],[3.175,9.947],[3.378,9.969],[2.972,10.026],[3.209,10.026],[3.632,9.963],[3.852,9.937],
[3.02,10.5],[3.05,10.15],[3.1,9.93],[3.13,10.7],[3.16,10.4],[3.2,10.1],[3.22,10.58],[3.26,9.95],[3.3,10.28],[3.33,10.05],[3.38,10.52],[3.42,9.92],[3.45,10.2],[3.48,10.65],[3.5,10.0],[3.54,10.4],[3.58,10.15],[3.6,10.55],[3.64,9.95],[3.66,10.45],[3.72,10.6],[3.76,10.35],[3.78,10.1],[3.83,10.55],[3.88,10.4],[3.9,9.92],[3.93,10.68],[3.97,10.28],
[5.02,10.84],[5.55,10.84],[4.09,10.80],[4.59,10.74],[4.64,10.57],[4.59,10.40],[5.18,10.37],[5.30,10.26],[5.38,10.13],[5.47,10.18],[5.77,10.11],[5.82,10.25],[5.77,10.06],[3.95,10.61],[3.99,10.51],[4.0,10.58],[4.09,10.43],[4.13,10.45],[4.24,10.43],[4.10,10.31],[4.18,10.24],[4.22,10.24],[4.33,10.23],[4.34,10.07],[4.44,10.15],[4.44,10.06],[4.48,10.14],[4.51,10.12],[4.51,10.30],[4.55,10.25],[4.60,10.25],[4.53,10.03],[4.71,10.25],[4.76,10.22],[4.72,10.17],[4.73,10.01],[4.77,9.98],[4.66,9.96],[5.0,10.11],[4.95,10.04],[4.91,9.995],[4.93,9.93],[5.04,10.29],[5.53,9.92],[4.19,10.03],[4.25,10.01],[4.29,9.96],[4.41,9.915],[4.02,10.01],[4.11,9.99],[3.99,10.11],[3.95,10.19],[3.89,9.97],[3.87,10.25],[3.85,10.09],[3.83,10.34],
[4.05,10.2],[4.15,10.62],[4.2,10.12],[4.28,10.35],[4.37,10.5],[4.4,9.98],[4.46,10.35],[4.55,10.05],[4.62,10.18],[4.68,10.45],[4.8,10.3],[4.85,10.12],[4.88,10.55],[4.98,9.95],[5.08,10.2],[5.12,10.5],[5.25,10.0],[5.35,10.4],[5.42,9.95],[5.6,10.3],[5.65,10.05],[5.7,9.92],[5.9,10.45],[5.95,10.1],[6.0,9.95],[5.85,10.6]
];

const botBlueLine: number[][] = [[1.52,10.32],[2.11,10.63],[2.82,10.84],[3.37,10.99],[4.11,11.15],[4.64,11.40],[5.15,11.59],[5.93,11.74],[6.64,11.815]];

// ---------- AXES ----------
const topXMajor = [0, 2, 4, 6];
const topXMinor = [0.5, 1, 1.5, 2.5, 3, 3.5, 4.5, 5, 5.5, 6.5, 7];
const botXMajor = [2, 3, 4, 5, 6];
const botXMinor = [2.2, 2.4, 2.6, 2.8, 3.2, 3.4, 3.6, 3.8, 4.2, 4.4, 4.6, 4.8, 5.2, 5.4, 5.6, 5.8];
const yMajor = [1e10, 1e11, 1e12];
const yMajorLabels = ['10\u00B9\u2070', '10\u00B9\u00B9', '10\u00B9\u00B2'];
const topYMinor = [2e9, 3e9, 4e9, 5e9, 6e9, 7e9, 8e9, 9e9, 2e10, 3e10, 4e10, 5e10, 6e10, 7e10, 8e10, 9e10, 2e11, 3e11, 4e11, 5e11, 6e11, 7e11, 8e11, 9e11];
const botYMinor = [9e9, 2e10, 3e10, 4e10, 5e10, 6e10, 7e10, 8e10, 9e10, 2e11, 3e11, 4e11, 5e11, 6e11, 7e11, 8e11, 9e11];

const toPts = (a: number[][]) => a.map(p => ({ x: p[0], y: Math.pow(10, p[1]) }));
const corePts = (t: [number, number[]][]) => t.flatMap(([z, ms]) => ms.map(m => ({ x: z, y: Math.pow(10, m) })));

const framePlugin = {
  id: 'frameTicks',
  afterDraw(chart: any, _a: any, opts: any) {
    const { ctx, chartArea: a } = chart;
    const xs = chart.scales.x, ys = chart.scales.y;
    ctx.save();
    ctx.strokeStyle = '#000';
    ctx.lineWidth = 1;
    ctx.beginPath();
    const vt = (v: number, len: number) => {
      const p = Math.round(xs.getPixelForValue(v)) + 0.5;
      ctx.moveTo(p, a.bottom); ctx.lineTo(p, a.bottom - len);
      ctx.moveTo(p, a.top); ctx.lineTo(p, a.top + len);
    };
    const ht = (v: number, len: number) => {
      const p = Math.round(ys.getPixelForValue(v)) + 0.5;
      ctx.moveTo(a.left, p); ctx.lineTo(a.left + len, p);
      ctx.moveTo(a.right, p); ctx.lineTo(a.right - len, p);
    };
    opts.xMajor.forEach((v: number) => vt(v, 7));
    opts.xMinor.forEach((v: number) => vt(v, 3.5));
    opts.yMajor.forEach((v: number) => ht(v, 7));
    opts.yMinor.forEach((v: number) => ht(v, 3.5));
    ctx.stroke();
    ctx.lineWidth = 1.3;
    ctx.strokeRect(a.left, a.top, a.right - a.left, a.bottom - a.top);
    ctx.restore();
  }
};

const lineDs = (pts: number[][], color: string, width: number, dash: number[]) => ({
  data: toPts(pts), showLine: true, borderColor: color, borderWidth: width, borderDash: dash,
  pointRadius: 0, fill: false, tension: 0
});

function makeConfig(p: any) {
  return {
    type: 'scatter',
    data: { datasets: p.datasets },
    plugins: [framePlugin],
    options: {
      responsive: false, animation: false, events: [],
      layout: { padding: { left: 0, right: 26, top: p.padTop, bottom: 0 } },
      plugins: {
        legend: { display: false }, tooltip: { enabled: false },
        frameTicks: { xMajor: p.xMajor, xMinor: p.xMinor, yMajor, yMinor: p.yMinor }
      },
      scales: {
        x: {
          type: 'linear', min: p.xMin, max: p.xMax,
          grid: { display: false, drawTicks: false }, border: { display: false },
          afterBuildTicks: (s: any) => { s.ticks = p.xMajor.map((v: number) => ({ value: v })); },
          afterFit: (s: any) => { s.height = p.xHeight; },
          ticks: { padding: 13.4, autoSkip: false, maxRotation: 0, color: '#000', font: { family: "'Liberation Sans', Arial, sans-serif", size: 11 }, callback: (v: number) => String(v) },
          title: { display: true, text: 'Redshift', color: '#000', font: { family: "'DejaVu Serif', serif", size: 14 }, padding: { top: 0, bottom: p.titlePad } }
        },
        y: {
          type: 'logarithmic', min: p.yMin, max: p.yMax,
          grid: { display: false, drawTicks: false }, border: { display: false },
          afterBuildTicks: (s: any) => { s.ticks = yMajor.map(v => ({ value: v })); },
          afterFit: (s: any) => { s.width = 52; },
          ticks: { padding: 12, autoSkip: false, color: '#000', font: { family: "'DejaVu Serif', serif", size: 12 },
            callback: (v: number) => { const i = yMajor.indexOf(v); return i >= 0 ? yMajorLabels[i] : ''; } },
          title: { display: true, text: 'Stellar Mass (M\u2299)', color: '#000', font: { family: "'DejaVu Serif', serif", size: 13 }, padding: { top: 2.2, bottom: 0 } }
        }
      }
    }
  };
}

export default function App() {
  const topRef = useRef<HTMLCanvasElement>(null);
  const botRef = useRef<HTMLCanvasElement>(null);
  useEffect(() => {
    const massive = toPts(topMassive).concat(corePts(topMassiveCore));
    const top = new Chart(topRef.current as any, makeConfig({
      padTop: 35, xHeight: 45, titlePad: 0, xMin: -0.3, xMax: 7.35, yMin: 1.25e9, yMax: 1.563e12,
      xMajor: topXMajor, xMinor: topXMinor, yMinor: topYMinor,
      datasets: [
        lineDs(topBlueSolid, '#0000ff', 1.5, []),
        lineDs(topBlueDashed, '#0000ff', 1.5, [12, 4]),
        lineDs(topRedSolid, 'rgba(255,0,0,0.6)', 1, []),
        lineDs(topRedDashed, 'rgba(255,0,0,0.6)', 1, [14, 5]),
        { data: massive, pointRadius: 2.75, backgroundColor: '#000', borderWidth: 0, showLine: false },
        { data: toPts(topFaint.concat(topFaintMore)), pointRadius: 0.95, pointStyle: 'rect', backgroundColor: '#000', borderWidth: 0, showLine: false }
      ]
    }) as any);
    const bot = new Chart(botRef.current as any, makeConfig({
      padTop: 26, xHeight: 67, titlePad: 21.3, xMin: 1.91, xMax: 6.1, yMin: 8.07e9, yMax: 1.578e12,
      xMajor: botXMajor, xMinor: botXMinor, yMinor: botYMinor,
      datasets: [
        lineDs(botBlueLine, '#0000ff', 1.5, []),
        { data: toPts(botRed), pointRadius: 3.3, backgroundColor: '#ff0000', borderWidth: 0, showLine: false },
        { data: toPts(botOpen), pointRadius: 3.5, backgroundColor: 'rgba(0,0,0,0)', borderColor: '#000', borderWidth: 1.15, showLine: false },
        { data: toPts(botFaint), pointRadius: 1.0, pointStyle: 'rect', backgroundColor: '#2a2aff', borderWidth: 0, showLine: false }
      ]
    }) as any);
    return () => { top.destroy(); bot.destroy(); };
  }, []);
  return (
    <div style={{ position: 'absolute', left: 0, top: 0, width: 491, height: 653, background: '#fff' }}>
      <canvas ref={topRef} width={491} height={320} style={{ display: 'block', width: 491, height: 320 }} />
      <canvas ref={botRef} width={491} height={333} style={{ display: 'block', width: 491, height: 333 }} />
    </div>
  );
}
